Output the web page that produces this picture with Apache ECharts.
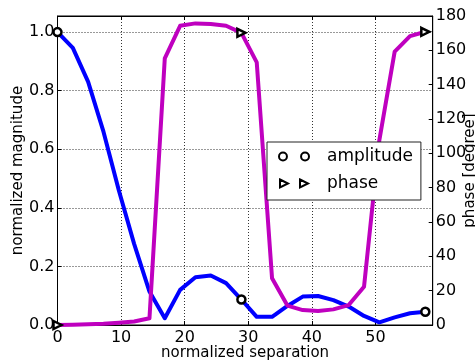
<!DOCTYPE html>
<html>
<head>
<meta charset="utf-8">
<script src="https://cdn.jsdelivr.net/npm/echarts@6/dist/echarts.min.js"></script>
<style>
  html, body { margin: 0; padding: 0; background: #fff; }
  #chart { width: 475px; height: 363px; }
</style>
</head>
<body>
<div id="chart"></div>
<script>
/* 数据 */
const separation = [0, 2.41, 4.82, 7.23, 9.64, 12.05, 14.46, 16.87, 19.28, 21.69, 24.1, 26.51,
  28.92, 31.33, 33.74, 36.15, 38.56, 40.97, 43.38, 45.79, 48.2, 50.61, 53.02, 55.43, 57.84]
const amplitude = [1.0, 0.946, 0.83, 0.66, 0.46, 0.277, 0.114, 0.023, 0.12, 0.163, 0.169, 0.143,
  0.087, 0.028, 0.028, 0.065, 0.097, 0.099, 0.085, 0.063, 0.031, 0.009, 0.026, 0.04, 0.045]
const phase = [0, 0.2, 0.4, 0.7, 1.3, 2.0, 3.9, 155.3, 174.3, 175.7, 175.3, 174.3,
  170.2, 153, 27.2, 11.3, 8.7, 8.2, 9.1, 11.6, 22.3, 107.7, 159.2, 168.3, 170.8]
const markerIdx = [0, 12, 24] // markevery

const FONT = 'DejaVu Sans'
const circlePath = 'path://M0.5,5 A4.5,4.5 0 1,1 9.5,5 A4.5,4.5 0 1,1 0.5,5 Z'
const triPath = 'path://M0,0 L10,5 L0,10 Z'
const twoCircles = 'path://M0.5,5 A4.5,4.5 0 1,1 9.5,5 A4.5,4.5 0 1,1 0.5,5 Z M25.5,5 A4.5,4.5 0 1,1 34.5,5 A4.5,4.5 0 1,1 25.5,5 Z'
const twoTris = 'path://M0,0 L10,5 L0,10 Z M25,0 L35,5 L25,10 Z'

const buildData = (ys, sym, size) =>
  separation.map((x, i) =>
    markerIdx.includes(i)
      ? { value: [x, ys[i]], symbol: sym, symbolSize: size }
      : { value: [x, ys[i]], symbol: 'none' }
  )

const dotted = { show: true, lineStyle: { color: '#333', width: 1, type: [1, 2] } }
const tickIn = { show: true, inside: true, length: 4, lineStyle: { color: '#000', width: 1 } }
const axisLine = { show: true, onZero: false, lineStyle: { color: '#000', width: 1 } }
const labelStyle = { color: '#000', fontSize: 16, fontFamily: FONT }

const chart = echarts.init(document.getElementById('chart'), null, { renderer: 'canvas' })

const option = {
  animation: false,
  textStyle: { fontFamily: FONT },
  grid: {
    left: 57.5, right: 42.3, top: 16, bottom: 38,
    containLabel: false, outerBoundsMode: 'none',
    show: true, borderColor: '#000', borderWidth: 1
  },
  legend: {
    orient: 'vertical',
    left: 267,
    top: 142,
    backgroundColor: '#fff',
    borderColor: '#222',
    borderWidth: 1,
    padding: [6, 8, 8, 11],
    itemGap: 10,
    itemWidth: 30,
    itemHeight: 8,
    selectedMode: false,
    textStyle: { fontSize: 17, color: '#000', fontFamily: FONT, padding: [0, 0, 0, 13] },
    itemStyle: { color: '#fff', borderColor: '#000', borderWidth: 2 },
    data: [
      { name: 'amplitude', icon: twoCircles },
      { name: 'phase', icon: twoTris }
    ]
  },
  xAxis: [
    {
      type: 'value',
      min: 0,
      max: 59,
      interval: 10,
      name: 'normalized separation',
      nameLocation: 'middle',
      nameGap: 21,
      nameMoveOverlap: false,
      nameTextStyle: { fontSize: 15, color: '#000', fontFamily: FONT },
      axisLine,
      axisTick: tickIn,
      axisLabel: { ...labelStyle, margin: 5, formatter: v => (v % 10 === 0 ? String(v) : '') },
      splitLine: dotted
    },
    {
      type: 'value',
      position: 'top',
      min: 0,
      max: 59,
      interval: 10,
      axisLine,
      axisTick: tickIn,
      axisLabel: { show: false },
      splitLine: { show: false }
    }
  ],
  yAxis: [
    {
      type: 'value',
      position: 'left',
      min: 0,
      max: 1.055,
      interval: 0.2,
      name: 'normalized magnitude',
      nameLocation: 'middle',
      nameGap: 32,
      nameMoveOverlap: false,
      nameTextStyle: { fontSize: 15, color: '#000', fontFamily: FONT },
      axisLine,
      axisTick: tickIn,
      axisLabel: {
        ...labelStyle,
        margin: 3,
        formatter: v => (Math.abs(v * 5 - Math.round(v * 5)) < 1e-6 ? v.toFixed(1) : '')
      },
      splitLine: dotted
    },
    {
      type: 'value',
      position: 'right',
      min: 0,
      max: 180,
      interval: 20,
      name: 'phase [degree]',
      nameLocation: 'middle',
      nameGap: 30,
      nameMoveOverlap: false,
      nameRotate: 90,
      nameTextStyle: { fontSize: 15, color: '#000', fontFamily: FONT },
      axisLine,
      axisTick: tickIn,
      axisLabel: { ...labelStyle, margin: 3 },
      splitLine: { show: false }
    }
  ],
  series: [
    {
      name: 'amplitude',
      type: 'line',
      xAxisIndex: 0,
      yAxisIndex: 0,
      data: buildData(amplitude, circlePath, 8),
      showSymbol: true,
      clip: false,
      z: 2,
      lineStyle: { color: '#0000ff', width: 4, join: 'round' },
      itemStyle: { color: '#fff', borderColor: '#000', borderWidth: 2.5 },
      emphasis: { disabled: true }
    },
    {
      name: 'phase',
      type: 'line',
      xAxisIndex: 0,
      yAxisIndex: 1,
      data: buildData(phase, triPath, 8),
      showSymbol: true,
      clip: false,
      z: 3,
      lineStyle: { color: '#bf00bf', width: 4, join: 'round' },
      itemStyle: { color: '#fff', borderColor: '#000', borderWidth: 2.5 },
      emphasis: { disabled: true }
    }
  ]
}

chart.setOption(option)
</script>
</body>
</html>
